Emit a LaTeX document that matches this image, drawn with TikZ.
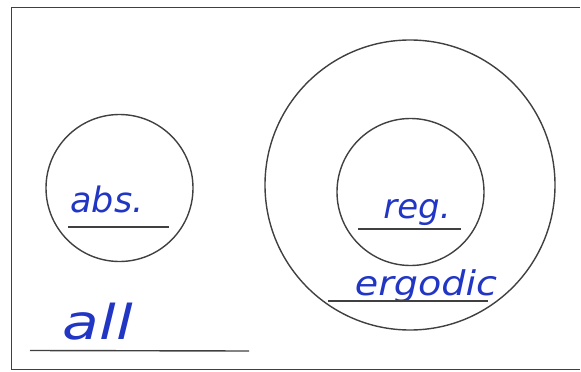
\documentclass[tikz,border=0pt]{standalone}
\usepackage{graphicx}
\usepackage{fontspec}
\setmainfont{DejaVu Sans}
\definecolor{ink}{HTML}{2236C4}
\definecolor{pen}{HTML}{404040}
\begin{document}
\begin{tikzpicture}[x=1pt,y=-1pt,
  circ/.style={draw=pen,line width=1.4pt},
  rule/.style={draw=pen,line width=1.4pt},
  lbl/.style={text=ink,inner sep=0pt,anchor=base}]
\useasboundingbox (0,0) rectangle (581,372);
\coordinate (tr) at (580,7.5);
\coordinate (tl) at (11.5,7.5);
\coordinate (bl) at (11.5,369.5);
\coordinate (br) at (580,369.5);
\draw[pen,line width=1.5pt] (tr) -- (tl) -- (bl) -- (br);
\node[circ,circle,minimum size=147pt,inner sep=0pt] (abs) at (119.5,188) {};
\node[circ,circle,minimum size=290pt,inner sep=0pt] (erg) at (410,185) {};
\node[circ,circle,minimum size=147pt,inner sep=0pt] (reg) at (410.5,192) {};
\node[lbl,font=\itshape\fontsize{35}{35}\selectfont] (tabs) at (107,212) {abs.};
\node[lbl,font=\itshape\fontsize{34}{34}\selectfont] (treg) at (417,218) {reg.};
\node[lbl,font=\itshape\fontsize{34}{34}\selectfont] (terg) at (426,295) {\scalebox{1.12}[1]{ergodic}};
\node[lbl,font=\itshape\fontsize{48}{48}\selectfont] (tall) at (98,339) {\scalebox{1.25}[1]{all}};
\coordinate (a1) at (68,227); \coordinate (a2) at (169,227);
\coordinate (r1) at (358,229); \coordinate (r2) at (461,229);
\coordinate (e1) at (328,301); \coordinate (e2) at (488,301);
\coordinate (l1) at (30,350.5); \coordinate (l2) at (249,351);
\draw[rule] (a1) -- (a2);
\draw[rule] (r1) -- (r2);
\draw[rule] (e1) -- (e2);
\draw[rule] (l1) -- (l2);
\end{tikzpicture}
\end{document}
